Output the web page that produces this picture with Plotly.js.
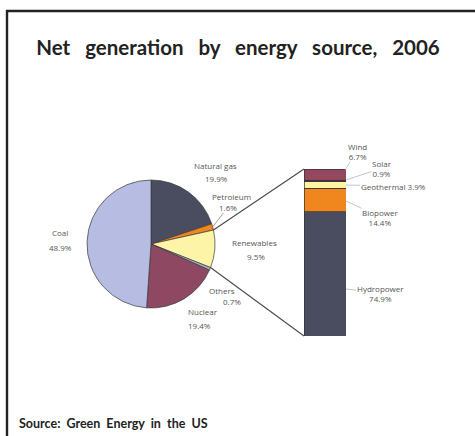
<!DOCTYPE html>
<html>
<head>
<meta charset="utf-8">
<script src="https://cdn.plot.ly/plotly-3.0.1.min.js"></script>
<style>html,body{margin:0;padding:0;background:#fff;}#chart{width:475px;height:436px;}</style>
</head>
<body>
<div id="chart"></div>
<script>
// ---- data ----
const pieLabels = ["Natural gas", "Petroleum", "Renewables", "Others", "Nuclear", "Coal"];
const pieValues = [19.9, 1.6, 9.5, 0.7, 19.4, 48.9];
const pieColors = ["#4a4d5f", "#f0861e", "#fdf4a8", "#a7b0c4", "#8e4862", "#b7bde2"];

const renewLabels = ["Hydropower", "Biopower", "Geothermal", "Solar", "Wind"];
const renewValues = [74.9, 14.4, 3.9, 0.9, 6.7];
const renewColors = ["#4a4d5f", "#f0861e", "#fdf4a8", "#6a3a4c", "#94485f"];

const titleWords = ["Net", "generation", "by", "energy", "source,", "2006"];
const sourceWords = ["Source:", "Green", "Energy", "in", "the", "US"];

// ---- layout helpers (pixel -> paper) ----
const W = 475, H = 436;
const fx = p => p / W;
const fy = p => 1 - p / H;

// pie geometry (pixels)
const pieCx = 151, pieCy = 244, pieR = 64;
// bar geometry (pixels)
const barL = 304, barR = 346, barTop = 169, barBot = 336;

const renewTotal = renewValues.reduce((a, b) => a + b, 0);
const pieTotal = pieValues.reduce((a, b) => a + b, 0);

const pieTrace = {
  type: "pie",
  labels: pieLabels,
  values: pieValues,
  sort: false,
  direction: "clockwise",
  rotation: 0,
  textinfo: "none",
  hoverinfo: "label+percent",
  marker: { colors: pieColors, line: { color: "#3a3a3a", width: 0.7 } },
  domain: { x: [fx(pieCx - pieR), fx(pieCx + pieR)], y: [fy(pieCy + pieR), fy(pieCy - pieR)] },
  showlegend: false
};

const barTraces = renewLabels.map((lab, i) => ({
  type: "bar",
  x: ["r"],
  y: [renewValues[i]],
  name: lab,
  marker: { color: renewColors[i], line: { color: "#333", width: 0.7 } },
  xaxis: "x",
  yaxis: "y",
  hoverinfo: "name+y",
  showlegend: false
}));

// angles of the renewables slice (from 12 o'clock, clockwise)
const idxR = pieLabels.indexOf("Renewables");
let cumBefore = 0;
for (let i = 0; i < idxR; i++) cumBefore += pieValues[i];
const a0 = cumBefore / pieTotal * 2 * Math.PI;
const a1 = (cumBefore + pieValues[idxR]) / pieTotal * 2 * Math.PI;
const pt = a => [pieCx + pieR * Math.sin(a), pieCy - pieR * Math.cos(a)];
const p0 = pt(a0), p1 = pt(a1);

const shapes = [
  // frame (top and left edges visible)
  { type: "line", xref: "paper", yref: "paper", x0: fx(6), y0: fy(11), x1: 1, y1: fy(11),
    line: { color: "#222", width: 2.4 } },
  { type: "line", xref: "paper", yref: "paper", x0: fx(7), y0: fy(10), x1: fx(7), y1: 0,
    line: { color: "#222", width: 2.4 } },
  // connectors pie -> bar
  { type: "line", xref: "paper", yref: "paper", x0: fx(p0[0]), y0: fy(p0[1]), x1: fx(barL), y1: fy(barTop),
    line: { color: "#4a4a4a", width: 1.1 } },
  { type: "line", xref: "paper", yref: "paper", x0: fx(p1[0]), y0: fy(p1[1]), x1: fx(barL), y1: fy(barBot),
    line: { color: "#4a4a4a", width: 1.1 } }
];

const lf = { family: "Open Sans, sans-serif", size: 8, color: "#555" };
const lead = "#a9b7cc";
const txt = (t, x, y, extra) => Object.assign({
  text: t, xref: "paper", yref: "paper", x: fx(x), y: fy(y), showarrow: false,
  font: lf, xanchor: "center", yanchor: "middle", align: "center"
}, extra || {});
const arr = (t, tipX, tipY, tx, ty, extra) => Object.assign({
  text: t, xref: "paper", yref: "paper", x: fx(tipX), y: fy(tipY), showarrow: true,
  ax: tx - tipX, ay: ty - tipY, arrowhead: 0, arrowwidth: 0.8, arrowcolor: lead,
  font: lf, align: "center", borderpad: 0
}, extra || {});

// petroleum slice mid angle for leader
const idxP = pieLabels.indexOf("Petroleum");
let cumP = 0;
for (let i = 0; i < idxP; i++) cumP += pieValues[i];
const pMid = pt((cumP + pieValues[idxP] / 2) / pieTotal * 2 * Math.PI);

const sp = "&nbsp;";
const annotations = [
  txt("Natural gas", 215, 165),
  txt("19.9%", 216, 178),
  txt("Petroleum", 231, 196),
  arr("1.6%", pMid[0], pMid[1], 228, 207, { arrowcolor: "#888" }),
  txt("Renewables", 254, 242),
  txt("9.5%", 256, 256),
  txt("Others", 222, 290.5),
  txt("0.7%", 232, 301),
  txt("Nuclear", 203, 311),
  txt("19.4%", 199, 325),
  txt("Coal", 60, 233),
  txt("48.9%", 60, 247),
  arr("Wind<br>6.7%", barR - 1, barTop + 1, 357, 151),
  arr("Solar<br>0.9%", barR, 180, 382, 168),
  arr("Geothermal 3.9%", barR, 185, 393, 186),
  arr("Biopower<br>14.4%", barR, 201, 380, 217),
  arr("Hydropower<br>74.9%", barR, 289, 380, 293),
  { text: "<b>" + sourceWords.join(" " + sp) + "</b>", xref: "paper", yref: "paper", x: fx(17), y: fy(423),
    xanchor: "left", yanchor: "middle", showarrow: false,
    font: { family: "Lato, sans-serif", size: 12.5, color: "#222" } }
];

const layout = {
  width: W, height: H,
  margin: { l: 0, r: 0, t: 0, b: 0 },
  paper_bgcolor: "#fff", plot_bgcolor: "rgba(0,0,0,0)",
  title: { text: "<b>" + titleWords.join(" " + sp + sp) + "</b>", x: fx(238), xanchor: "center", y: fy(48), yanchor: "middle",
           font: { family: "Lato, sans-serif", size: 20.5, color: "#222", weight: 900 } },
  barmode: "stack", bargap: 0,
  xaxis: { domain: [fx(barL), fx(barR)], range: [-0.5, 0.5], visible: false, fixedrange: true },
  yaxis: { domain: [fy(barBot), fy(barTop)], range: [0, renewTotal], visible: false, fixedrange: true },
  shapes: shapes,
  annotations: annotations,
  showlegend: false
};

Plotly.newPlot("chart", [pieTrace].concat(barTraces), layout, { displayModeBar: false, staticPlot: true });
</script>
</body>
</html>
